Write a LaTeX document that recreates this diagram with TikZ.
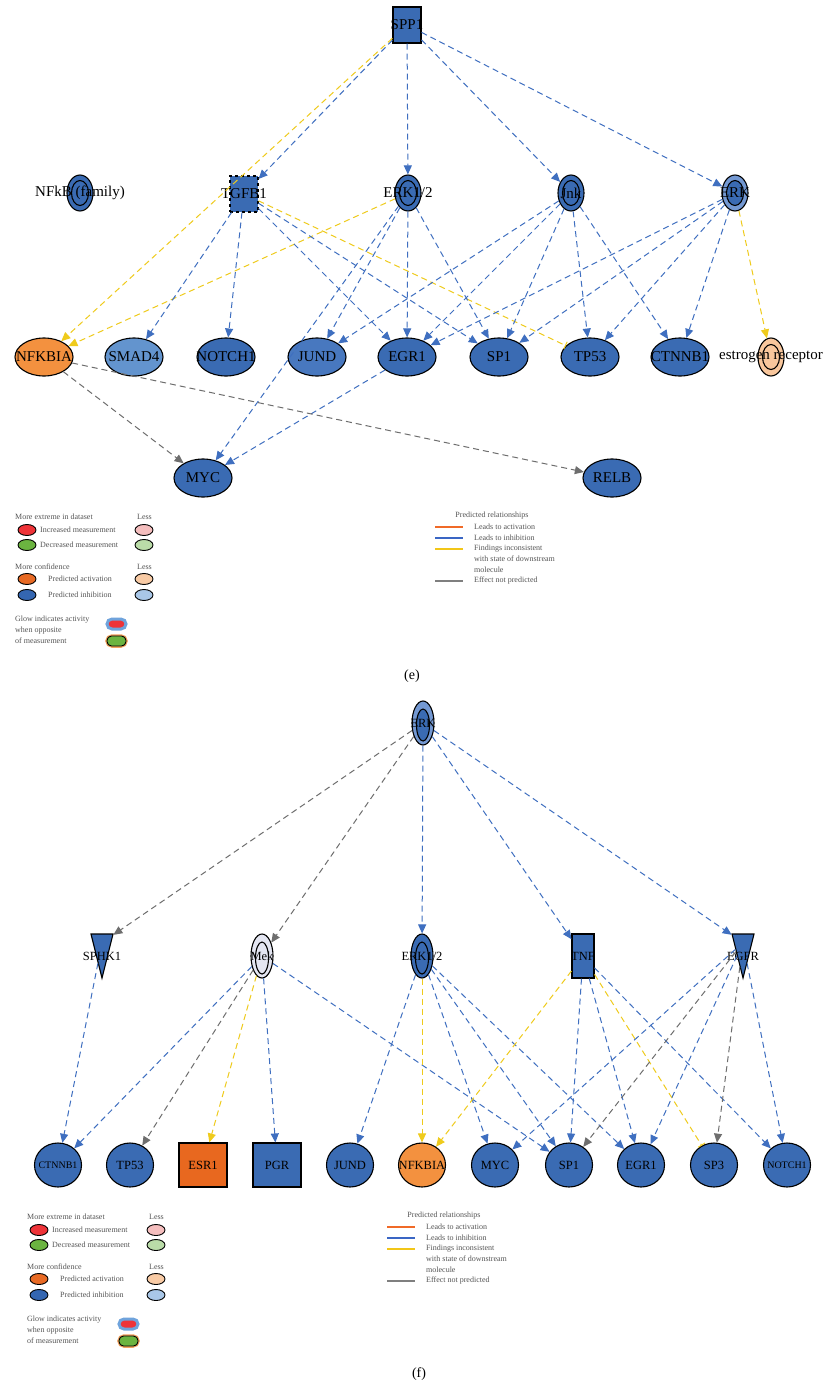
\documentclass[tikz,border=0pt]{standalone}
\usepackage{fontspec}
\setmainfont{Liberation Serif}
\usepackage{tikz}
\usetikzlibrary{arrows.meta,shapes.geometric}
\definecolor{inhblue}{HTML}{3A6BB3}
\definecolor{lightinh}{HTML}{6394CE}
\definecolor{midinh}{HTML}{4878BF}
\definecolor{ringblue}{HTML}{7398D2}
\definecolor{actorange}{HTML}{F3913F}
\definecolor{deeporange}{HTML}{E8681F}
\definecolor{paleorange}{HTML}{F8C69C}
\definecolor{mekgray}{HTML}{E4E6F2}
\definecolor{edgeblue}{HTML}{3F6FC0}
\definecolor{edgeyel}{HTML}{EFCB1C}
\definecolor{edgegray}{HTML}{6E6E6E}
\definecolor{legred}{HTML}{EE3338}
\definecolor{legpink}{HTML}{F5BEBE}
\definecolor{leggreen}{HTML}{6BB440}
\definecolor{legpalegreen}{HTML}{BADCA8}
\definecolor{legorange}{HTML}{E86A24}
\definecolor{legpeach}{HTML}{F9CBA5}
\definecolor{legblue}{HTML}{3466B1}
\definecolor{legpaleblue}{HTML}{A9C7E8}
\definecolor{glowblue}{HTML}{6FA3DC}
\definecolor{gloworange}{HTML}{F2A25E}
\definecolor{lineorange}{HTML}{F06A28}
\definecolor{lineblue}{HTML}{3A66C4}
\definecolor{lineyel}{HTML}{F2C618}
\definecolor{linegray}{HTML}{7F7F7F}
\definecolor{legtext}{HTML}{555555}
\newcommand{\toplbl}{\fontsize{15}{17}\selectfont}
\newcommand{\botlbl}{\fontsize{12.5}{14}\selectfont}
\newcommand{\smlbl}{\fontsize{10}{12}\selectfont}
\newcommand{\legfont}{\fontsize{8}{11}\selectfont}

\begin{document}
\begin{tikzpicture}[x=1pt, y=-1pt,
    mol/.style={draw=black, line width=1.1pt, fill=inhblue, inner sep=0pt},
    oval/.style={mol, ellipse, minimum width=58pt, minimum height=38pt},
    disc/.style={mol, ellipse, minimum width=47pt, minimum height=44pt},
    box/.style={mol, rectangle, minimum width=28pt, minimum height=36pt},
    cplx/.style={mol, ellipse, minimum width=26pt, minimum height=36pt,
        path picture={\filldraw[line width=1.1pt, fill=#1] (path picture bounding box.center) ellipse [x radius=8.5pt, y radius=12.5pt];}},
    cplx/.default=none,
    cplxb/.style={mol, ellipse, minimum width=22pt, minimum height=44pt,
        path picture={\filldraw[line width=1.1pt, fill=#1] ([yshift=-2pt]path picture bounding box.center) ellipse [x radius=6.5pt, y radius=16pt];}},
    cplxb/.default=none,
    tri/.style={mol, isosceles triangle, isosceles triangle stretches, shape border rotate=270, minimum width=22pt, minimum height=44pt},
    lbl/.style={label={[font=\toplbl]center:#1}},
    lbs/.style={label={[font=\botlbl]center:#1}},
    lbt/.style={label={[font=\botlbl, yshift=-13.4pt]center:#1}},
    lbx/.style={label={[font=\smlbl]center:#1}},
    inh/.style={draw=edgeblue, line width=1pt, dash pattern=on 6pt off 4pt, -{Triangle[length=9pt, width=8pt]}},
    yel/.style={inh, draw=edgeyel},
    gry/.style={inh, draw=edgegray},
    yelbar/.style={draw=edgeyel, line width=1pt, dash pattern=on 6pt off 4pt, -{Bar[width=8pt]}},
    legtxt/.style={font=\legfont, text=legtext, inner sep=0pt, anchor=west, align=left},
    legoval/.style={line width=0.9pt, draw=black}]

    \fill[white] (0,0) rectangle (824,1386);
    \useasboundingbox (0,0) rectangle (824,1386);

    % (e) upstream
    \node[box, lbl=SPP1] (spp1) at (407,25) {};
    \node[cplx, lbl=NFkB (family)] (nfkb) at (80,193) {};
    \node[box, dashed, lbl=TGFB1] (tgfb1) at (244,194) {};
    \node[cplx, lbl=ERK1/2] (erk12) at (408,193) {};
    \node[cplx, lbl=Jnk] (jnk) at (571,193) {};
    \node[cplx=inhblue, fill=ringblue, lbl=ERK] (erka) at (735,193) {};

    % (e) targets
    \node[oval, fill=actorange, lbl=NFKBIA] (nfkbia) at (44,357) {};
    \node[oval, fill=lightinh, lbl=SMAD4] (smad4) at (134,357) {};
    \node[oval, lbl=NOTCH1] (notch1) at (226,357) {};
    \node[oval, fill=midinh, lbl=JUND] (jund) at (317,357) {};
    \node[oval, lbl=EGR1] (egr1) at (407,357) {};
    \node[oval, lbl=SP1] (sp1) at (499,357) {};
    \node[oval, lbl=TP53] (tp53) at (590,357) {};
    \node[oval, lbl=CTNNB1] (ctnnb1) at (680,357) {};
    \node[cplx, fill=paleorange, minimum height=38pt, lbl=estrogen receptor] (estr) at (771,357) {};
    \node[oval, lbl=MYC] (myc) at (203,478) {};
    \node[oval, lbl=RELB] (relb) at (612,478) {};

    % (e) relationships
    \foreach \t in {tgfb1,erk12,jnk,erka} \draw[inh] (spp1) -- (\t);
    \draw[yel] (spp1) -- (nfkbia);
    \draw[yel] (erk12) -- (nfkbia);
    \draw[yel] (erka) -- (estr);
    \draw[yelbar] (tgfb1) -- (tp53);
    \foreach \t in {smad4,notch1,egr1,sp1} \draw[inh] (tgfb1) -- (\t);
    \foreach \t in {myc,jund,egr1,sp1} \draw[inh] (erk12) -- (\t);
    \foreach \t in {jund,egr1,sp1,tp53,ctnnb1} \draw[inh] (jnk) -- (\t);
    \foreach \t in {egr1,sp1,tp53,ctnnb1} \draw[inh] (erka) -- (\t);
    \draw[inh] (egr1) -- (myc);
    \draw[gry] (nfkbia) -- (myc);
    \draw[gry] (nfkbia) -- (relb);

    % (f) upstream
    \node[cplxb=inhblue, fill=ringblue, lbs=ERK] (erkb) at (423,723) {};
    \node[tri, lbt=SPHK1] (sphk1) at (102,942.6) {};
    \node[cplxb, fill=mekgray, lbs=Mek] (mek) at (262,956) {};
    \node[cplxb, lbs=ERK1/2] (erk12b) at (422,956) {};
    \node[box, minimum width=22pt, minimum height=44pt, lbs=TNF] (tnf) at (583,956) {};
    \node[tri, lbt=EGFR] (egfr) at (743,942.6) {};

    % (f) targets
    \node[disc, lbx=CTNNB1] (ctnnb1b) at (58,1165) {};
    \node[disc, lbs=TP53] (tp53b) at (130,1165) {};
    \node[box, fill=deeporange, minimum width=48pt, minimum height=44pt, lbs=ESR1] (esr1) at (203,1165) {};
    \node[box, minimum width=48pt, minimum height=44pt, lbs=PGR] (pgr) at (277,1165) {};
    \node[disc, lbs=JUND] (jundb) at (350,1165) {};
    \node[disc, fill=actorange, lbs=NFKBIA] (nfkbiab) at (422,1165) {};
    \node[disc, lbs=MYC] (mycb) at (495,1165) {};
    \node[disc, lbs=SP1] (sp1b) at (569,1165) {};
    \node[disc, lbs=EGR1] (egr1b) at (641,1165) {};
    \node[disc, lbs=SP3] (sp3) at (714,1165) {};
    \node[disc, lbx=NOTCH1] (notch1b) at (787,1165) {};

    % (f) relationships
    \foreach \t in {sphk1,mek} \draw[gry] (erkb) -- (\t);
    \foreach \t in {erk12b,tnf,egfr} \draw[inh] (erkb) -- (\t);
    \draw[inh] (sphk1) -- (ctnnb1b);
    \foreach \t in {ctnnb1b,pgr,sp1b} \draw[inh] (mek) -- (\t);
    \draw[gry] (mek) -- (tp53b);
    \draw[yel] (mek) -- (esr1);
    \foreach \t in {jundb,mycb,sp1b,egr1b} \draw[inh] (erk12b) -- (\t);
    \draw[yel] (erk12b) -- (nfkbiab);
    \draw[yel] (tnf) -- (nfkbiab);
    \foreach \t in {sp1b,egr1b,notch1b} \draw[inh] (tnf) -- (\t);
    \draw[yelbar] (tnf) -- (sp3);
    \foreach \t in {mycb,egr1b,notch1b} \draw[inh] (egfr) -- (\t);
    \foreach \t in {sp1b,sp3} \draw[gry] (egfr) -- (\t);

    % Legends, once per panel
    \foreach \lx/\rx/\dy/\p in {0/0/0/e,12/-48/700/f} {
        \begin{scope}[shift={(\lx,\dy)}]
            \node[legtxt] (xtr\p) at (15,517) {More extreme in dataset};
            \node[legtxt, anchor=center] (lessa\p) at (144.5,517) {Less};
            \filldraw[legoval, fill=legred] (27,530) ellipse [x radius=9pt, y radius=5.5pt];
            \filldraw[legoval, fill=legpink] (144,530) ellipse [x radius=9pt, y radius=5.5pt];
            \node[legtxt] (incr\p) at (40,530) {Increased measurement};
            \filldraw[legoval, fill=leggreen] (27,545) ellipse [x radius=9pt, y radius=5.5pt];
            \filldraw[legoval, fill=legpalegreen] (144,545) ellipse [x radius=9pt, y radius=5.5pt];
            \node[legtxt] (decr\p) at (40,545) {Decreased measurement};
            \node[legtxt] (conf\p) at (15,567) {More confidence};
            \node[legtxt, anchor=center] (lessb\p) at (144.5,567) {Less};
            \filldraw[legoval, fill=legorange] (27,579) ellipse [x radius=9pt, y radius=5.5pt];
            \filldraw[legoval, fill=legpeach] (144,579) ellipse [x radius=9pt, y radius=5.5pt];
            \node[legtxt] (pact\p) at (48,579) {Predicted activation};
            \filldraw[legoval, fill=legblue] (27,595) ellipse [x radius=9pt, y radius=5.5pt];
            \filldraw[legoval, fill=legpaleblue] (144,595) ellipse [x radius=9pt, y radius=5.5pt];
            \node[legtxt] (pinh\p) at (48,595) {Predicted inhibition};
            \node[legtxt] (glow\p) at (15,629.5) {Glow indicates activity\\when opposite\\of measurement};
            \draw[glowblue, line width=3pt, fill=legred, rounded corners=5pt] (107,619) rectangle (126,629);
            \draw[gloworange, line width=3.5pt, rounded corners=5pt] (107,636) rectangle (126,646);
            \draw[black, line width=0.9pt, fill=leggreen, rounded corners=4.5pt] (107,636) rectangle (126,646);
        \end{scope}
        \begin{scope}[shift={(\rx,\dy)}]
            \node[legtxt, anchor=center] (rel\p) at (492,516) {Predicted relationships};
            \draw[lineorange, line width=1.2pt] (435,527) -- (463,527);
            \node[legtxt] (lact\p) at (474,527) {Leads to activation};
            \draw[lineblue, line width=1.2pt] (435,538) -- (463,538);
            \node[legtxt] (linh\p) at (474,538) {Leads to inhibition};
            \draw[lineyel, line width=1.2pt] (435,549) -- (463,549);
            \node[legtxt] (fnd\p) at (474,559) {Findings inconsistent\\with state of downstream\\molecule};
            \draw[linegray, line width=1.2pt] (435,581) -- (463,581);
            \node[legtxt] (enp\p) at (474,581) {Effect not predicted};
        \end{scope}
    }

    % Panel captions
    \node[font=\fontsize{14}{16}\selectfont] (cape) at (412,676) {(e)};
    \node[font=\fontsize{14}{16}\selectfont] (capf) at (419,1374) {(f)};
\end{tikzpicture}
\end{document}
